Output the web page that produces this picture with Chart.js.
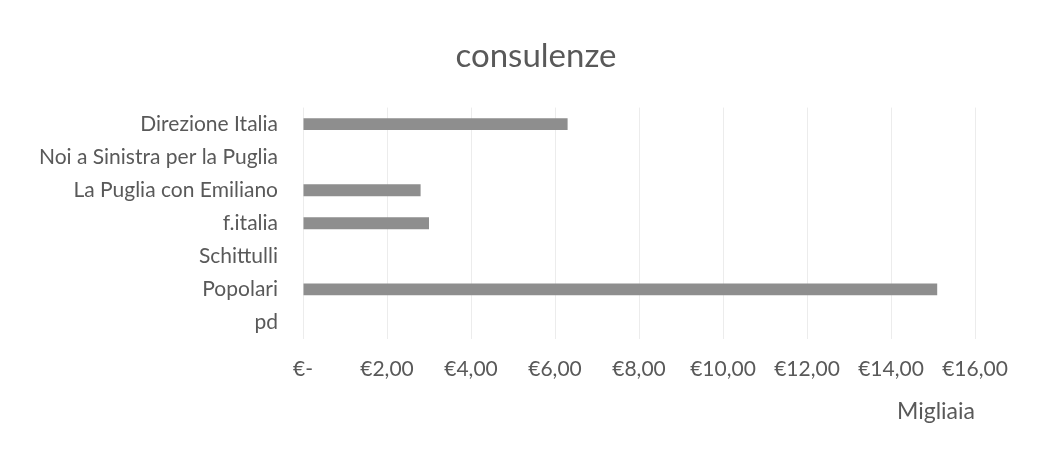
<!DOCTYPE html>
<html>
<head>
<meta charset="utf-8">
<script src="https://cdn.jsdelivr.net/npm/chart.js@4"></script>
<style>
  body { margin: 0; background: #fff; }
  #box { width: 1056px; height: 454px; }
</style>
</head>
<body>
<div id="box"><canvas id="grafico"></canvas></div>
<script>
// dati (migliaia di euro)
const categorie = ['Direzione Italia', 'Noi a Sinistra per la Puglia', 'La Puglia con Emiliano', 'f.italia', 'Schittulli', 'Popolari', 'pd'];
const consulenze = [6.3, 0, 2.8, 3.0, 0, 15.1, 0];
const tickMax = 16;
const tickStep = 2;

const grigio = '#595959';
const fonte = 'Lato, "Open Sans", sans-serif';

function euro(v) {
    if (v === 0) return '€-';
    return '€' + v.toFixed(2).replace('.', ',');
}

var ctx = document.getElementById('grafico').getContext('2d');
var grafico = new Chart(ctx, {
    type: 'bar',
    data: {
        labels: categorie,
        datasets: [{
            label: 'consulenze',
            data: consulenze,
            backgroundColor: '#8e8e8e',
            categoryPercentage: 1,
            barPercentage: 0.36
        }]
    },
    options: {
        indexAxis: 'y',
        responsive: true,
        maintainAspectRatio: false,
        animation: false,
        layout: { padding: { left: 16, right: 0, top: 0, bottom: 0 } },
        plugins: {
            legend: { display: false },
            tooltip: { enabled: false },
            title: {
                display: true,
                text: 'consulenze',
                color: grigio,
                font: { family: fonte, size: 33, weight: 'normal' },
                padding: { top: 37, bottom: 31 }
            }
        },
        scales: {
            x: {
                min: 0,
                max: tickMax,
                ticks: {
                    stepSize: tickStep,
                    color: grigio,
                    padding: 18,
                    font: { family: fonte, size: 21 },
                    callback: v => euro(v)
                },
                grid: { color: '#ececec', drawTicks: false },
                border: { display: false },
                title: {
                    display: true,
                    text: 'Migliaia',
                    align: 'end',
                    color: grigio,
                    font: { family: fonte, size: 23 },
                    padding: { top: 0, bottom: 29 }
                },
                afterFit: s => { s.height = 115; }
            },
            y: {
                ticks: {
                    color: grigio,
                    padding: 25,
                    font: { family: fonte, size: 21 }
                },
                grid: { display: false, drawTicks: false },
                border: { display: false },
                afterFit: s => { s.width = 287; }
            },
            // asse vuoto a destra, solo per lasciare margine
            margine: {
                type: 'linear',
                axis: 'y',
                position: 'right',
                ticks: { display: false },
                grid: { display: false, drawTicks: false },
                border: { display: false },
                afterFit: s => { s.width = 81; }
            }
        }
    }
});
</script>
</body>
</html>
